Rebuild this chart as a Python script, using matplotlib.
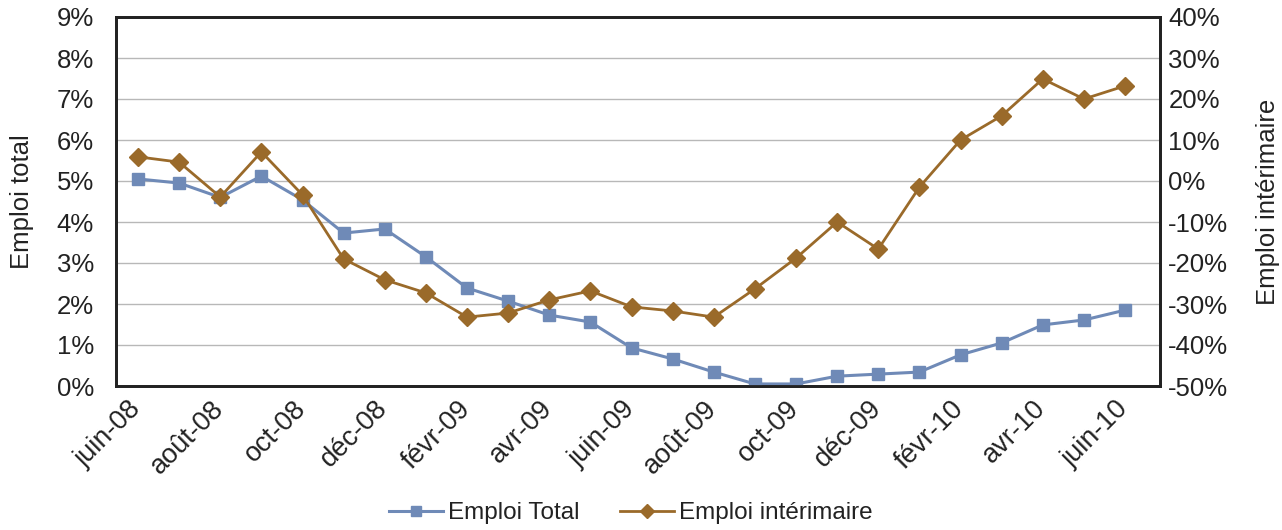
import matplotlib
matplotlib.use("Agg")
import matplotlib.pyplot as plt
import matplotlib.transforms as mtransforms
from matplotlib.ticker import FuncFormatter
import numpy as np

plt.rcParams['font.family'] = ['Liberation Sans', 'DejaVu Sans']

# monthly points, juin-08 .. juin-10
months = ['juin-08', 'juil-08', 'août-08', 'sept-08', 'oct-08', 'nov-08', 'déc-08',
          'janv-09', 'févr-09', 'mars-09', 'avr-09', 'mai-09', 'juin-09', 'juil-09',
          'août-09', 'sept-09', 'oct-09', 'nov-09', 'déc-09', 'janv-10', 'févr-10',
          'mars-10', 'avr-10', 'mai-10', 'juin-10']

emploi_total = [5.05, 4.95, 4.6, 5.12, 4.54, 3.73, 3.83, 3.15, 2.39, 2.07, 1.73, 1.56,
                0.93, 0.66, 0.34, 0.05, 0.05, 0.24, 0.29, 0.34, 0.76, 1.05, 1.49, 1.61, 1.85]

emploi_interim = [5.9, 4.6, -3.9, 7.1, -3.4, -19.0, -24.1, -27.3, -33.2, -32.2, -29.0, -26.8,
                  -30.7, -31.7, -33.2, -26.3, -18.8, -10.0, -16.6, -1.5, 10.0, 15.9, 24.9,
                  20.0, 23.2]

blue = '#6f8ab7'
brown = '#9a6a2a'
txt = '#222222'

fig = plt.figure(figsize=(12.82, 5.30), dpi=100)
ax = fig.add_axes([116/1282, 1 - 386/530, (1160-116)/1282, (386-17)/530])
ax2 = ax.twinx()

x = np.arange(len(months))
l1, = ax.plot(x, emploi_total, color=blue, marker='s', markersize=9, linewidth=2.2,
              label='Emploi Total', zorder=3)
l2, = ax2.plot(x, emploi_interim, color=brown, marker='D', markersize=9, linewidth=2.0,
               label='Emploi intérimaire', zorder=3)

ax.set_xlim(-0.535, len(months) - 0.15)
ax.set_ylim(0, 9)
ax2.set_ylim(-50, 40)
ax.set_yticks(np.arange(0, 10, 1))
ax2.set_yticks(np.arange(-50, 50, 10))
ax.yaxis.set_major_formatter(FuncFormatter(lambda v, p: '%d%%' % v))
ax2.yaxis.set_major_formatter(FuncFormatter(lambda v, p: '%d%%' % v))
ax.grid(axis='y', color='#b8b8b8', linewidth=1)
ax.set_axisbelow(True)

ax.set_xticks(x[::2])
ax.set_xticklabels(months[::2], rotation=45, ha='right', rotation_mode='anchor')
ax.tick_params(axis='x', length=0, labelsize=19.5, pad=7, labelcolor=txt)
ax.tick_params(axis='y', length=0, labelsize=18.5, pad=16, labelcolor=txt)
ax2.tick_params(axis='y', length=0, labelsize=18.5, pad=6, labelcolor=txt)
shift = mtransforms.ScaledTranslation(-10/100, 0, fig.dpi_scale_trans)
for lab in ax.get_xticklabels():
    lab.set_transform(lab.get_transform() + shift)

for a in (ax, ax2):
    for s in a.spines.values():
        s.set_color('#222222')
        s.set_linewidth(2)

ax.set_ylabel('Emploi total', fontsize=18.5, color=txt, labelpad=16)
ax2.set_ylabel('Emploi intérimaire', fontsize=18.5, color=txt, rotation=90, labelpad=20)

fig.legend(handles=[l1, l2], loc='center', bbox_to_anchor=(0.492, 1 - 513/530), ncol=2,
           frameon=False, fontsize=17.5, handlelength=2.2, columnspacing=1.7,
           handletextpad=0.2, markerscale=0.8, labelcolor=txt)

fig.savefig('out.png', dpi=100)
